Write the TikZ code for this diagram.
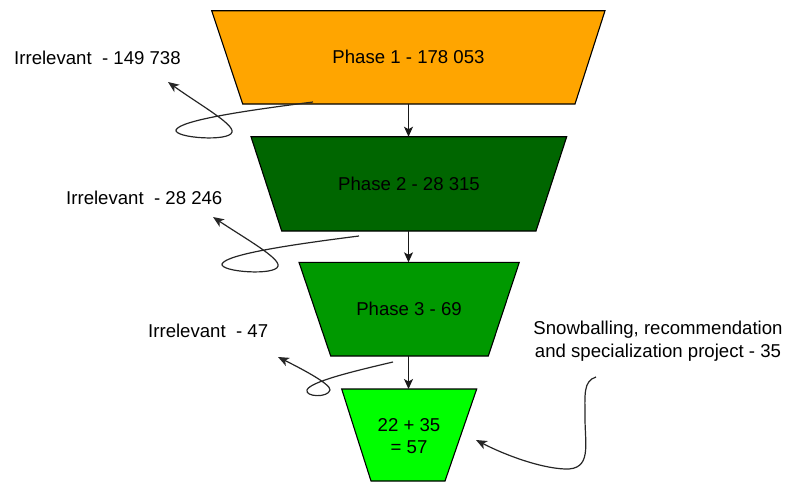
\documentclass[tikz,border=0pt]{standalone}
\usepackage{fontspec}
\setmainfont{Liberation Sans}
\usetikzlibrary{arrows.meta}
\definecolor{phaseone}{HTML}{FFA500}
\definecolor{phasetwo}{HTML}{006600}
\definecolor{phasethree}{HTML}{009900}
\definecolor{phasefour}{HTML}{00FF00}
\begin{document}
\begin{tikzpicture}[x=1pt,y=-1pt,
  stage/.style={draw=black, line width=1.1pt, line join=miter},
  lbl/.style={font=\fontsize{18.6}{22.7}\selectfont, inner sep=0pt, anchor=base},
  flow/.style={draw=black!90, line width=1.2pt, -{Stealth[length=10pt,width=9pt,inset=2.5pt]}},
  loopflow/.style={draw=black!85, line width=1.2pt, -{Stealth[length=11pt,width=9pt,inset=3pt]}}]
\useasboundingbox (0,0) rectangle (785,483);

% funnel stages
\filldraw[stage, fill=phaseone]   (211.7,10.7) -- (605,10.7) -- (575,104) -- (242.7,104) -- cycle;
\filldraw[stage, fill=phasetwo]   (251,136.7) -- (566.7,136.7) -- (536,231) -- (281.7,231) -- cycle;
\filldraw[stage, fill=phasethree] (299,262.3) -- (519.3,262.3) -- (488.3,356) -- (330.7,356) -- cycle;
\filldraw[stage, fill=phasefour]  (341.7,389) -- (476.7,389) -- (445,481) -- (371,481) -- cycle;

% stage edges used by the connectors
\coordinate (b1) at (408.5,104);
\coordinate (t2) at (408.5,136.7);
\coordinate (b2) at (408.5,231);
\coordinate (t3) at (408.5,262.3);
\coordinate (b3) at (408.5,356);
\coordinate (t4) at (408.5,389);

% stage captions
\node[lbl] (p1) at (408.5,63.5) {Phase 1 - 178 053};
\node[lbl] (p2) at (409,190) {Phase 2 - 28 315};
\node[lbl] (p3) at (409,315) {Phase 3 - 69};
\node[lbl, anchor=center, align=center] (p4) at (409,436) {22 + 35\\= 57};

% side captions
\node[lbl, anchor=base west] (irr1) at (14,64) {Irrelevant\ \ - 149 738};
\node[lbl, anchor=base west] (irr2) at (66,204) {Irrelevant\ \ - 28 246};
\node[lbl, anchor=base west] (irr3) at (148,337) {Irrelevant\ \ - 47};
\node[lbl, anchor=center, align=center] (snow) at (658,341)
  {Snowballing, recommendation\\and specialization project - 35};

% flow between stages
\draw[flow] (b1) -- (t2);
\draw[flow] (b2) -- (t3);
\draw[flow] (b3) -- (t4);

% looping arrows for discarded items
\coordinate (s1) at (313,102);  \coordinate (e1) at (168,82);
\coordinate (s2) at (359,236);  \coordinate (e2) at (213,217);
\coordinate (s3) at (393,362);  \coordinate (e3) at (278,357);
\coordinate (s4) at (596,377);  \coordinate (e4) at (476,440);

\draw[loopflow] (s1) .. controls (250,110) and (180,120) .. (176,130)
  .. controls (174,138) and (230,142) .. (232,132)
  .. controls (234,124) and (200,105) .. (e1);
\draw[loopflow] (s2) .. controls (296,244) and (226,254) .. (222,264)
  .. controls (220,272) and (276,276) .. (278,266)
  .. controls (280,258) and (246,239) .. (e2);
\draw[loopflow] (s3) .. controls (350,372) and (310,382) .. (307,390)
  .. controls (305,397) and (328,398) .. (330,390)
  .. controls (331,384) and (300,368) .. (e3);
\draw[loopflow] (s4) .. controls (583,381) and (585,395) .. (585,418)
  .. controls (585,445) and (592,470) .. (565,469)
  .. controls (540,468) and (505,455) .. (e4);
\end{tikzpicture}
\end{document}
